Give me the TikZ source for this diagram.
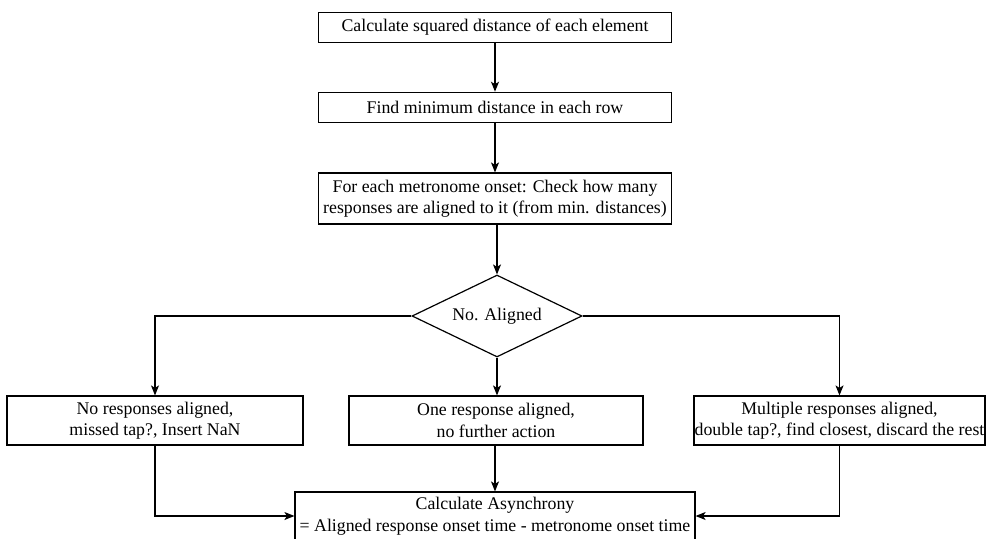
\documentclass[tikz,border=0pt]{standalone}
\usepackage{fontspec}
\setmainfont{Liberation Serif}
\usetikzlibrary{shapes.geometric,arrows.meta}
\begin{document}
\begin{tikzpicture}[x=1pt,y=-1pt,
  every node/.style={font=\fontsize{17.8}{21.5}\selectfont},
  box/.style={draw,line width=1.2pt,inner sep=0pt,align=center},
  conn/.style={line width=1.2pt,-{Stealth[length=10pt,width=8pt,inset=2.5pt]}}]
\clip (0,0) rectangle (993,538);
\fill[white] (0,0) rectangle (993,538);
\node[box,minimum width=353pt,minimum height=30pt] (b1) at (495,27.3) {Calculate squared distance of each element};
\node[box,minimum width=353pt,minimum height=30pt] (b2) at (495,107.3) {Find minimum distance in each row};
\node[box,minimum width=353pt,minimum height=51pt] (b3) at (495,198.5) {For each metronome onset: Check how many\\responses are aligned to it (from min. distances)};
\node[draw,line width=1.2pt,shape=diamond,aspect=2.07,minimum width=170pt,minimum height=82pt,inner sep=0pt] (d) at (497,316) {No. Aligned};
\node[box,minimum width=296pt,minimum height=49pt] (l) at (155,420.5) {No responses aligned,\\missed tap?, Insert NaN};
\node[box,minimum width=294pt,minimum height=49pt] (m) at (496,420.5) {One response aligned,\\no further action};
\node[box,minimum width=291pt,minimum height=49pt] (r) at (839.5,420.5) {Multiple responses aligned,\\double tap?, find closest, discard the rest};
\node[box,minimum width=400pt,minimum height=48pt] (f) at (495,516) {Calculate Asynchrony\\= Aligned response onset time - metronome onset time};
\draw[conn] (b1) -- (b2);
\draw[conn] (b2) -- (b3);
\draw[conn] (b3.south -| d.north) -- (d.north);
\draw[conn] (d.west) -| (l.north);
\draw[conn] (d.east) -| (r.north);
\draw[conn] (d.south) -- (d.south |- m.north);
\draw[conn] (l.south) |- (f.west);
\draw[conn] (r.south) |- (f.east);
\draw[conn] (m.south -| f.north) -- (f.north);
\end{tikzpicture}
\end{document}
